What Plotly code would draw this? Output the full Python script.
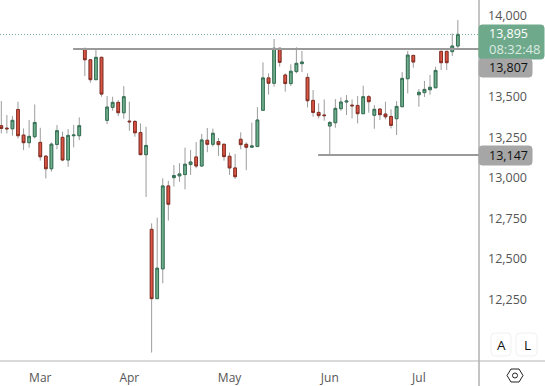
import plotly.graph_objects as go

opens = [13323,13308,13304,13423,13265,13218,13255,13220,13135,13057,13207,13251,13111,13261,13261,13794,13730,13607,13745,13356,13436,13467,13403,13351,13349,13281,13144,12683,12255,12439,12951,13002,13013,13021,13083,13130,13074,13233,13208,13225,13208,13134,13062,13239,13208,13190,13194,13418,13618,13585,13801,13636,13583,13657,13706,13621,13479,13405,13389,13321,13341,13428,13469,13450,13448,13397,13502,13387,13426,13395,13380,13366,13440,13613,13757,13514,13527,13545,13557,13782,13782,13780,13815]
highs = [13475,13389,13382,13471,13306,13358,13454,13310,13141,13220,13327,13286,13302,13327,13374,13806,13732,13800,13749,13506,13502,13481,13567,13471,13358,13337,13316,12720,12755,12998,12982,13080,13091,13187,13173,13222,13272,13309,13305,13247,13214,13157,13148,13282,13220,13342,13437,13714,13646,13858,13801,13646,13702,13807,13784,13646,13543,13461,13485,13352,13487,13498,13512,13485,13506,13570,13512,13450,13430,13471,13424,13475,13654,13784,13759,13549,13599,13636,13687,13784,13784,13893,13975]
lows = [13275,13275,13261,13244,13172,13187,13244,13107,12997,13039,13177,13104,13069,13189,13234,13629,13588,13605,13502,13333,13415,13382,13366,13292,13255,13141,12883,11922,12255,12350,12737,12947,12976,12930,13019,13060,13070,13159,13194,13136,13107,13019,12994,13177,13048,13190,13194,13418,13515,13564,13688,13533,13568,13646,13654,13436,13378,13368,13354,13140,13310,13415,13389,13368,13337,13395,13403,13304,13358,13362,13306,13265,13440,13522,13681,13440,13500,13514,13557,13667,13667,13753,13800]
closes = [13306,13304,13356,13261,13218,13257,13343,13131,13057,13209,13292,13111,13263,13265,13323,13730,13607,13745,13518,13438,13467,13403,13502,13347,13279,13144,13201,12255,12443,12951,12838,13015,13025,13085,13099,13074,13235,13208,13276,13206,13132,13062,13008,13206,13190,13198,13358,13618,13585,13801,13714,13583,13659,13708,13716,13477,13405,13385,13385,13343,13430,13469,13475,13446,13397,13502,13471,13424,13391,13378,13325,13442,13615,13759,13716,13529,13547,13560,13664,13712,13712,13815,13887]
bars = list(range(len(opens)))

month_bars = [7, 23, 41, 59, 75]
month_labels = ["Mar", "Apr", "May", "Jun", "Jul"]
price_ticks = [14000, 13500, 13250, 13000, 12750, 12500, 12250]
price_tick_labels = ["14,000", "13,500", "13,250", "13,000", "12,750", "12,500", "12,250"]

last_price = 13886
resistance = 13796
support = 13142
resistance_start = 12.9
support_start = 56.9

FONT = "Open Sans"
UP = "#6fae8d"; UP_EDGE = "#357054"
DOWN = "#dc5544"; DOWN_EDGE = "#862e23"
WICK = "#9c9c9c"; LINE = "#8a8a8a"

body_top = [max(o, c) for o, c in zip(opens, closes)]
body_bot = [min(o, c) for o, c in zip(opens, closes)]

fig = go.Figure()
fig.add_trace(go.Candlestick(
    x=bars, open=opens, high=highs, low=lows, close=closes, whiskerwidth=0,
    increasing=dict(line=dict(color=WICK, width=1), fillcolor=UP),
    decreasing=dict(line=dict(color=WICK, width=1), fillcolor=DOWN),
    hoverinfo="skip", showlegend=False))
fig.add_trace(go.Candlestick(
    x=bars, open=opens, high=body_top, low=body_bot, close=closes, whiskerwidth=0,
    increasing=dict(line=dict(color=UP_EDGE, width=1), fillcolor=UP),
    decreasing=dict(line=dict(color=DOWN_EDGE, width=1), fillcolor=DOWN),
    hoverinfo="skip", showlegend=False))

shapes = [
    dict(type="line", xref="paper", yref="y", x0=0, x1=1, y0=last_price, y1=last_price,
         line=dict(color="#6fb08f", width=1, dash="1px,2px")),
    dict(type="line", xref="x", yref="y", x0=resistance_start, x1=85.8, y0=resistance, y1=resistance,
         line=dict(color="#9a9a9a", width=2)),
    dict(type="line", xref="x", yref="y", x0=support_start, x1=85.8, y0=support, y1=support,
         line=dict(color="#9a9a9a", width=2)),
    # axis frame
    dict(type="line", xref="paper", yref="paper", x0=1, x1=1, y0=-25/361, y1=1, line=dict(color=LINE, width=1)),
    dict(type="line", xref="paper", yref="paper", x0=0, x1=545/479, y0=0, y1=0, line=dict(color="#b5b5b5", width=1)),
]


def px_x(v):
    return v / 479


def px_y(v):
    return 1 - v / 361


def box(x0, x1, y0, y1, color, line_color=None, radius=0):
    r_x = radius / 479
    r_y = radius / 361
    a, b = px_x(x0), px_x(x1)
    t, u = px_y(y0), px_y(y1)
    path = (f"M{a+r_x},{t} L{b-r_x},{t} Q{b},{t} {b},{t-r_y} L{b},{u+r_y} Q{b},{u} {b-r_x},{u} "
            f"L{a+r_x},{u} Q{a},{u} {a},{u+r_y} L{a},{t-r_y} Q{a},{t} {a+r_x},{t} Z")
    return dict(type="path", xref="paper", yref="paper", path=path, fillcolor=color,
                line=dict(color=line_color or color, width=1))


shapes += [
    box(479, 544, 25, 59, "#6fa98b", radius=3),
    box(479, 532, 59, 77, "#a6a6a6", radius=3),
    box(479, 532, 146, 165, "#a6a6a6", radius=3),
    box(491, 511, 333, 356, "#ffffff", "#f1f1f1", radius=4),
    box(516, 537, 333, 356, "#ffffff", "#f1f1f1", radius=4),
]

# settings glyph
hx, hy = 515, 375.5
hex_pts = [(-8, 0), (-4, -6.5), (4, -6.5), (8, 0), (4, 6.5), (-4, 6.5)]
hex_path = "M" + " L".join(f"{px_x(hx+a)},{px_y(hy+b)}" for a, b in hex_pts) + " Z"
shapes.append(dict(type="path", xref="paper", yref="paper", path=hex_path, line=dict(color="#222222", width=1)))
shapes.append(dict(type="circle", xref="paper", yref="paper", x0=px_x(hx-2.5), x1=px_x(hx+2.5),
                   y0=px_y(hy+2.5), y1=px_y(hy-2.5), line=dict(color="#222222", width=1)))


def label(x, y, text, color, size=12.5, weight=None):
    return dict(xref="paper", yref="paper", x=px_x(x), y=px_y(y), text=text, showarrow=False,
                xanchor="center", yanchor="middle",
                font=dict(family=FONT, size=size, color=color, weight=weight or 400))


price_box = label(488, 41.5, "<span style='font-weight:500'>13,895</span><br>"
                             "<span style='color:#dcebe3;font-size:13px'>08:32:48</span>", "#ffffff", 12.5)
price_box.update(xanchor="left", align="left", borderpad=0)

annotations = [
    price_box,
    label(508, 67.5, "13,807", "#111111"),
    label(508, 155, "13,147", "#111111"),
    label(501, 345, "A", "#111111", 13.5, 500),
    label(527, 345, "L", "#111111", 13.5, 500),
]

fig.update_layout(
    width=545, height=386, margin=dict(l=0, r=66, t=0, b=25),
    paper_bgcolor="white", plot_bgcolor="white", showlegend=False,
    shapes=shapes, annotations=annotations, hovermode=False,
    xaxis=dict(range=[-0.234, 85.8], rangeslider=dict(visible=False), showgrid=False, zeroline=False,
               tickmode="array", tickvals=month_bars, ticktext=month_labels, ticks="", ticklabelstandoff=8,
               tickfont=dict(family=FONT, size=12, color="#555555")),
    yaxis=dict(range=[11870, 14099], side="right", showgrid=False, zeroline=False,
               tickmode="array", tickvals=price_ticks, ticktext=price_tick_labels, ticks="", ticklabelstandoff=8,
               tickfont=dict(family=FONT, size=12.5, color="#555555")),
)

fig.write_html("out.html", config=dict(displayModeBar=False),
               post_script="document.body.style.margin='0';document.documentElement.style.overflow='hidden';")
